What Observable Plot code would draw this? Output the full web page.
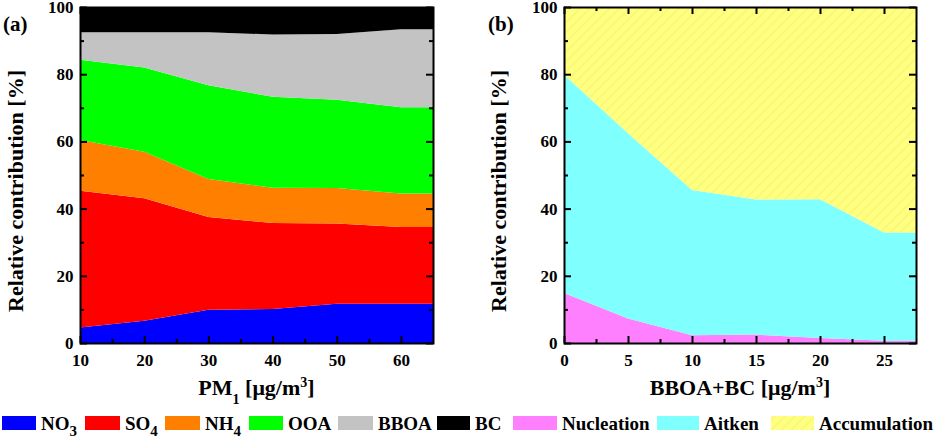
<!DOCTYPE html>
<html>
<head>
<meta charset="utf-8">
<script src="https://cdn.jsdelivr.net/npm/d3@7"></script>
<script src="https://cdn.jsdelivr.net/npm/@observablehq/plot@0.6"></script>
<style>
  body { margin: 0; background: #fff; width: 936px; height: 438px; overflow: hidden; }
  #charts { display: flex; width: 936px; height: 408px; }
  #legend { width: 936px; height: 30px; }
  svg text { font-family: "Liberation Serif", "Times New Roman", Times, "DejaVu Serif", serif; font-weight: bold; }
</style>
</head>
<body>
<svg width="0" height="0" style="position:absolute">
  <defs>
    <pattern id="hatch" width="7" height="7" patternUnits="userSpaceOnUse" patternTransform="rotate(45)">
      <rect width="7" height="7" fill="#FFFF80"></rect>
      <line x1="1" y1="0" x2="1" y2="7" stroke="#F8F474" stroke-width="1.2"></line>
    </pattern>
  </defs>
</svg>
<div id="charts"></div>
<div id="legend"></div>
<script>
// ---------- Panel (a) data ----------
const xA = [10, 20, 30, 40, 50, 60, 65];
const NO3  = [4.6, 6.6, 9.9, 10.1, 11.7, 11.7, 11.7];
const SO4  = [40.7, 36.5, 27.6, 25.6, 23.9, 22.8, 22.8];
const NH4  = [15.1, 13.8, 11.3, 10.5, 10.5, 10.0, 10.0];
const OOA  = [23.9, 25.1, 27.9, 27.1, 26.3, 25.7, 25.7];
const BBOA = [8.2, 10.5, 15.8, 18.5, 19.6, 23.2, 23.2];
const BC   = [7.5, 7.5, 7.5, 8.2, 8.0, 6.6, 6.6];
const seriesA = ["NO3", "SO4", "NH4", "OOA", "BBOA", "BC"];
const valuesA = [NO3, SO4, NH4, OOA, BBOA, BC];
const xTicksA = [10, 20, 30, 40, 50, 60];
const xMinorA = [15, 25, 35, 45, 55];

// ---------- Panel (b) data ----------
const xB = [0, 5, 10, 15, 20, 25, 27.5];
const Nucleation   = [14.9, 7.3, 2.3, 2.5, 1.5, 0.7, 0.7];
const Aitken       = [64.9, 55.1, 43.2, 40.2, 41.3, 32.2, 32.2];
const Accumulation = [20.2, 37.6, 54.5, 57.3, 57.2, 67.1, 67.1];
const seriesB = ["Nucleation", "Aitken", "Accumulation"];
const valuesB = [Nucleation, Aitken, Accumulation];
const xTicksB = [0, 5, 10, 15, 20, 25];
const xMinorB = [2.5, 7.5, 12.5, 17.5, 22.5];

const yTicks = [0, 20, 40, 60, 80, 100];
const yMinor = [10, 30, 50, 70, 90];

// ---------- styles ----------
const colorsA = ["#0000FF", "#FF0000", "#FF8000", "#00FF00", "#C3C3C3", "#000000"];
const colorsB = ["#FF80FF", "#80FFFF", "url(#hatch)"];

// legend entries (label, subscript) and layout
const legendLabels = [["NO", "3"], ["SO", "4"], ["NH", "4"], ["OOA", ""], ["BBOA", ""], ["BC", ""],
                      ["Nucleation", ""], ["Aitken", ""], ["Accumulation", ""]];
const legendColors = colorsA.concat(colorsB);
const legendX = [2, 85, 165, 249, 338, 437, 513, 657, 771];
const legendW = [34, 35, 35, 34, 35, 33, 44, 42, 43];

function tidy(xs, names, vals) {
  return names.flatMap((s, i) => xs.map((x, j) => ({x, y: vals[i][j], s})));
}

const W = 468, H = 408, MT = 7, MB = 65;
const innerH = H - MT - MB;

function panel({xs, names, vals, colors, xDomain, xTicks, xMinor, ml, mr, tag, titleParts, tagX, yTitleX}) {
  const innerW = W - ml - mr;
  const major = 7, minor = 4, sw = 2;
  const svg = Plot.plot({
    width: W, height: H,
    marginLeft: ml, marginRight: mr, marginTop: MT, marginBottom: MB,
    style: {fontFamily: "'Liberation Serif', 'Times New Roman', serif", fontWeight: "bold", fontSize: "17px", color: "#000", background: "#fff", overflow: "visible"},
    x: {domain: xDomain},
    y: {domain: [0, 100]},
    color: {domain: names, range: colors},
    marks: [
      Plot.areaY(tidy(xs, names, vals), {x: "x", y: "y", fill: "s", curve: "linear"}),
      Plot.ruleX(xTicks, {insetTop: innerH - major, stroke: "#000", strokeWidth: sw}),
      Plot.ruleX(xTicks, {insetBottom: innerH - major, stroke: "#000", strokeWidth: sw}),
      Plot.ruleX(xMinor, {insetTop: innerH - minor, stroke: "#000", strokeWidth: sw}),
      Plot.ruleX(xMinor, {insetBottom: innerH - minor, stroke: "#000", strokeWidth: sw}),
      Plot.ruleY(yTicks, {insetRight: innerW - major, stroke: "#000", strokeWidth: sw}),
      Plot.ruleY(yTicks, {insetLeft: innerW - major, stroke: "#000", strokeWidth: sw}),
      Plot.ruleY(yMinor, {insetRight: innerW - minor, stroke: "#000", strokeWidth: sw}),
      Plot.ruleY(yMinor, {insetLeft: innerW - minor, stroke: "#000", strokeWidth: sw}),
      Plot.frame({stroke: "#000", strokeWidth: sw}),
      Plot.axisX({ticks: xTicks, tickSize: 0, tickPadding: 10, label: null, tickFormat: d => String(d)}),
      Plot.axisY({ticks: yTicks, tickSize: 0, tickPadding: 7, label: null, tickFormat: d => String(d)})
    ]
  });
  const s = d3.select(svg);
  s.append("text").attr("x", tagX).attr("y", 31).attr("text-anchor", "start")
    .attr("font-size", 21).attr("fill", "#000").text(tag);
  s.append("text")
    .attr("transform", `translate(${yTitleX},191) rotate(-90)`)
    .attr("text-anchor", "middle").attr("font-size", 22).attr("fill", "#000")
    .text("Relative contribution [%]");
  const t = s.append("text")
    .attr("x", ml + innerW / 2).attr("y", 395)
    .attr("text-anchor", "middle").attr("font-size", 22).attr("fill", "#000");
  titleParts.forEach(p => {
    t.append("tspan").attr("dy", p.dy).attr("font-size", p.fs).text(p.t);
  });
  return svg;
}

const charts = document.getElementById("charts");
charts.appendChild(panel({
  xs: xA, names: seriesA, vals: valuesA, colors: colorsA,
  xDomain: [10, 65], xTicks: xTicksA, xMinor: xMinorA,
  ml: 80, mr: 35, tag: "(a)", tagX: 3, yTitleX: 23,
  titleParts: [
    {t: "PM", dy: 0, fs: 22},
    {t: "1", dy: 9, fs: 14},
    {t: " [μg/m", dy: -9, fs: 22},
    {t: "3", dy: -8, fs: 14},
    {t: "]", dy: 8, fs: 22}
  ]
}));
charts.appendChild(panel({
  xs: xB, names: seriesB, vals: valuesB, colors: colorsB,
  xDomain: [0, 27.5], xTicks: xTicksB, xMinor: xMinorB,
  ml: 96, mr: 20, tag: "(b)", tagX: 20, yTitleX: 38,
  titleParts: [
    {t: "BBOA+BC [μg/m", dy: 0, fs: 22},
    {t: "3", dy: -8, fs: 14},
    {t: "]", dy: 8, fs: 22}
  ]
}));

// ---------- legend ----------
const lg = d3.select("#legend").append("svg").attr("width", 936).attr("height", 30);
legendLabels.forEach(([name, sub], i) => {
  lg.append("rect").attr("x", legendX[i]).attr("y", 8).attr("width", legendW[i]).attr("height", 14).attr("fill", legendColors[i]);
  const tx = lg.append("text").attr("x", legendX[i] + legendW[i] + 5).attr("y", 22)
    .attr("font-size", 19).attr("fill", "#000");
  tx.append("tspan").text(name);
  if (sub) tx.append("tspan").attr("dy", 6).attr("font-size", 15).text(sub);
});
</script>
</body>
</html>
